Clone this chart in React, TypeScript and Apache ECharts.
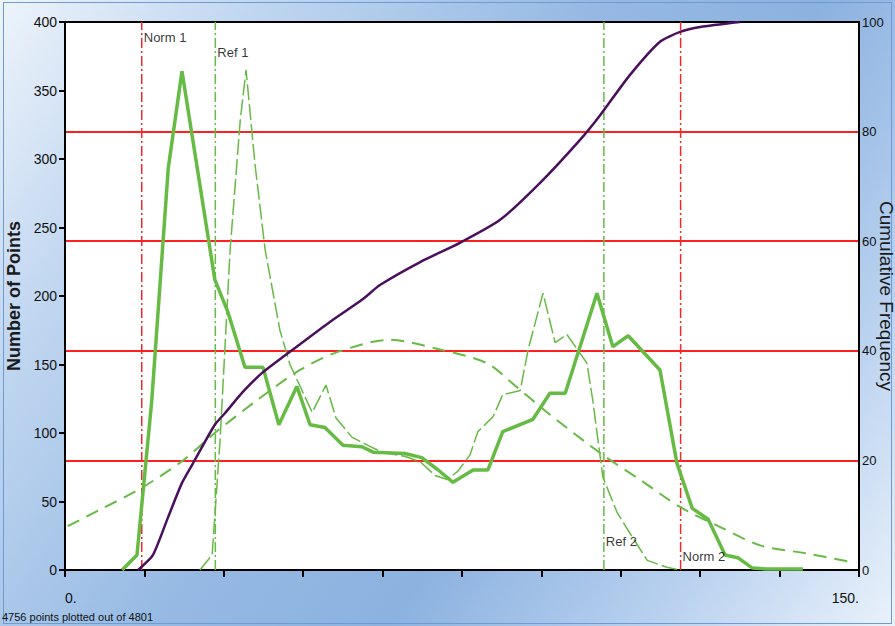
import React, { useEffect, useRef } from 'react';
import * as echarts from 'echarts';

// Axis ranges
const xMin = 0;
const xMax = 150;
const xStep = 15;
const countMax = 400;
const countStep = 50;
const cumMax = 100;
const cumStep = 20;

// Measured distribution (thick solid line)
const measuredX = [10.8, 13.6, 16.4, 19.5, 22.1, 28.3, 30.8, 34.0, 37.4, 40.4, 43.8, 46.3, 49.1, 52.5, 56.1, 58.2, 64.2, 67.4, 70.5, 73.3, 77.1, 79.9, 82.7, 88.4, 91.6, 94.5, 100.5, 103.5, 106.4, 112.4, 115.6, 118.5, 121.5, 124.7, 127.1, 129.8, 132.6, 139.4];
const measuredCount = [0, 11, 124, 293, 364, 212, 188, 148, 148, 106, 134, 106, 104, 91, 90, 86, 85, 82, 73, 64, 73, 73, 101, 110, 129, 129, 202, 163, 171, 146, 78, 45, 37, 11, 9, 1.5, 0.7, 0.7];

// Reference distribution (thin dashed line)
const refX = [25.5, 27.8, 29.3, 31.2, 33.1, 34.2, 35.9, 37.8, 40.6, 42.5, 46.7, 49.3, 51.2, 54.2, 57.2, 59.9, 64.2, 67.1, 69.9, 72.2, 74.2, 76.5, 78.0, 80.9, 82.7, 86.0, 87.5, 90.3, 92.6, 94.8, 98.6, 99.7, 101.6, 104.3, 106.7, 110.0, 113.7, 116.2];
const refCount = [0, 11, 95, 234, 328, 365, 296, 234, 175, 150, 115, 135, 111, 97, 91, 86, 83, 79, 69, 66, 72, 84, 101, 112, 128, 131, 161, 202, 166, 172, 151, 124, 68, 42, 27, 7, 2, 0];

// Fitted normal curve (long dashes)
const fitX = [0.5, 6.6, 14.5, 22.3, 28.3, 36.3, 44.4, 51.4, 61.4, 70.8, 79.7, 84.6, 91.1, 101.6, 109.0, 116.2, 124.0, 131.3, 140.2, 148.3];
const fitCount = [32, 44, 60, 80, 100, 124, 146, 159, 168, 161, 151, 136, 115, 84, 65, 46, 31, 18, 12, 6];

// Cumulative frequency (%) on the right axis
const cumX = [13.8, 16.6, 19.5, 22.1, 24.2, 28.3, 30.2, 33.6, 37.4, 41.6, 44.4, 50.1, 56.1, 59.5, 67.1, 74.6, 82.2, 89.7, 97.3, 101.1, 106.7, 112.4, 116.2, 120.0, 127.5];
const cumPct = [0, 2.7, 9.7, 15.9, 19.5, 26.5, 28.6, 32.5, 36.1, 39.2, 41.2, 45.3, 49.3, 52.0, 56.2, 59.7, 63.9, 70.6, 78.5, 83.0, 90.3, 96.4, 98.2, 99.1, 100];

// Limit markers
const markerNames = ['Norm 1', 'Ref 1', 'Ref 2', 'Norm 2'];
const markerX = [14.5, 28.4, 101.8, 116.3];
const markerKind = ['norm', 'ref', 'ref', 'norm'];
const markerLabelCount = [389, 378, 21, 9.5];

const countAxisName = 'Number of Points';
const cumAxisName = 'Cumulative Frequency';
const footnote = '4756 points plotted out of 4801';

const GREEN = '#66bb44';
const RED = '#ee2a2a';
const PURPLE = '#4b0f5e';
const FONT = "'Liberation Sans', Arial, sans-serif";

const zip = (xs: number[], ys: number[]) => xs.map((x, i) => [x, ys[i]]);

function buildOption(): echarts.EChartsCoreOption {
  const markerLines = markerNames.map((name, i) => ({
    type: 'line',
    name,
    data: [[markerX[i], 0], [markerX[i], countMax]],
    symbol: 'none',
    silent: true,
    z: 1,
    lineStyle: {
      color: markerKind[i] === 'norm' ? RED : GREEN,
      width: 1.5,
      type: [10, 3, 2, 3],
    },
  }));

  return {
    animation: false,
    backgroundColor: 'transparent',
    textStyle: { fontFamily: FONT },
    grid: {
      left: 65,
      right: 36,
      top: 22,
      bottom: 56,
      outerBoundsMode: 'none',
      containLabel: false,
      show: true,
      backgroundColor: '#ffffff',
      borderColor: '#000000',
      borderWidth: 2,
    },
    xAxis: {
      type: 'value',
      min: xMin,
      max: xMax,
      interval: xStep,
      axisLine: { show: true, lineStyle: { color: '#000', width: 2 } },
      axisTick: { show: true, length: 7, lineStyle: { color: '#000', width: 2 } },
      splitLine: { show: false },
      axisLabel: {
        margin: 21,
        fontSize: 14,
        color: '#111',
        fontFamily: FONT,
        alignMinLabel: 'left',
        alignMaxLabel: 'right',
        formatter: (v: number) => (v === xMin || v === xMax ? `${v}.` : ''),
      },
    },
    yAxis: [
      {
        type: 'value',
        position: 'left',
        min: 0,
        max: countMax,
        interval: countStep,
        name: countAxisName,
        nameLocation: 'middle',
        nameGap: 41,
        nameTextStyle: { fontSize: 18, fontWeight: 'bold', color: '#1a1a1a', fontFamily: FONT },
        axisLine: { show: true, lineStyle: { color: '#000', width: 2 } },
        axisTick: { show: true, length: 6, lineStyle: { color: '#000', width: 2 } },
        splitLine: { show: false },
        axisLabel: { margin: 8, fontSize: 14, color: '#111', fontFamily: FONT },
      },
      {
        type: 'value',
        position: 'right',
        min: 0,
        max: cumMax,
        interval: cumStep,
        axisLine: { show: true, lineStyle: { color: '#000', width: 2 } },
        axisTick: { show: false },
        splitLine: {
          show: true,
          showMinLine: false,
          showMaxLine: false,
          lineStyle: { color: '#ff1f1f', width: 2 },
        },
        axisLabel: { margin: 3, fontSize: 13, color: '#111', fontFamily: FONT },
      },
    ],
    graphic: [
      {
        type: 'text',
        left: 2,
        top: 611,
        style: { text: footnote, fontSize: 11, fill: '#111', fontFamily: FONT },
      },
      {
        // right-hand axis title, reading top to bottom
        type: 'text',
        x: 886,
        y: 296,
        rotation: -Math.PI / 2,
        style: {
          text: cumAxisName,
          fontSize: 19,
          fill: '#1a1a1a',
          fontFamily: FONT,
          align: 'center',
          verticalAlign: 'middle',
        },
      },
    ],
    series: [
      ...markerLines,
      {
        type: 'line',
        name: 'Fit',
        data: zip(fitX, fitCount),
        symbol: 'none',
        smooth: 0.3,
        z: 2,
        lineStyle: { color: GREEN, width: 2, type: [13, 8] },
      },
      {
        type: 'line',
        name: 'Reference',
        data: zip(refX, refCount),
        symbol: 'none',
        z: 3,
        lineStyle: { color: GREEN, width: 1.5, type: [16, 4] },
      },
      {
        type: 'line',
        name: 'Measured',
        data: zip(measuredX, measuredCount),
        symbol: 'none',
        z: 4,
        lineStyle: { color: GREEN, width: 3.5 },
      },
      {
        type: 'line',
        name: 'Cumulative',
        yAxisIndex: 1,
        data: zip(cumX, cumPct),
        symbol: 'none',
        smooth: 0.2,
        z: 5,
        lineStyle: { color: PURPLE, width: 2.5 },
      },
      {
        type: 'scatter',
        name: 'Marker labels',
        symbolSize: 0,
        silent: true,
        z: 6,
        data: markerNames.map((name, i) => ({ name, value: [markerX[i], markerLabelCount[i]] })),
        label: {
          show: true,
          position: 'right',
          distance: 2,
          formatter: '{b}',
          fontSize: 13,
          color: '#000',
          fontFamily: FONT,
        },
      },
    ],
  };
}

export default function App() {
  const ref = useRef<HTMLDivElement>(null);

  useEffect(() => {
    const el = ref.current;
    if (!el) return;
    const chart = echarts.init(el, undefined, { renderer: 'svg' });
    chart.setOption(buildOption());
    return () => chart.dispose();
  }, []);

  return (
    <div
      style={{
        position: 'fixed',
        left: 0,
        top: 0,
        width: 895,
        height: 626,
        overflow: 'hidden',
        background:
          'linear-gradient(125deg, #eef4fb 0%, #c3d8f1 18%, #95b9e3 45%, #8cb2e0 62%, #b9d1ef 82%, #eaf2fb 100%)',
      }}
    >
      <div
        style={{
          position: 'absolute',
          left: 3,
          top: 2,
          right: 3,
          bottom: 2,
          border: '1px solid #6f9bd4',
        }}
      />
      <div ref={ref} style={{ position: 'absolute', left: 0, top: 0, width: 895, height: 626 }} />
    </div>
  );
}
